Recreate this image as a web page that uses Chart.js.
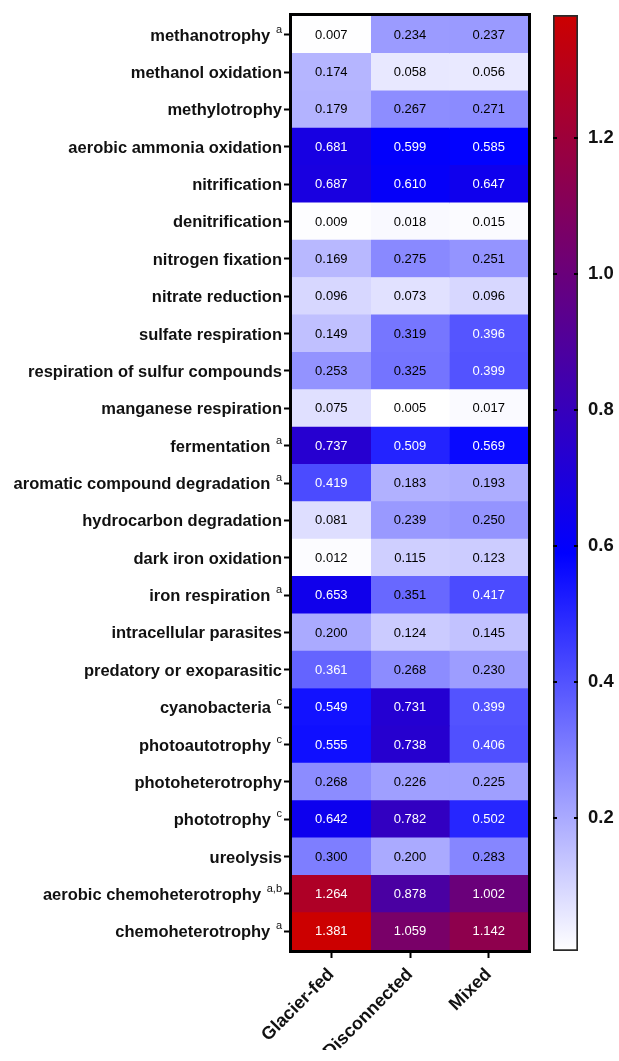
<!DOCTYPE html>
<html>
<head>
<meta charset="utf-8">
<title>Functional profiles</title>
<script src="https://cdn.jsdelivr.net/npm/chart.js@4/dist/chart.umd.min.js"></script>
<style>
  html, body { margin: 0; padding: 0; background: #ffffff; }
  #wrap { position: relative; width: 619px; height: 1061px; }
  #heat { position: absolute; left: 0; top: 0; }
  #scale { position: absolute; left: 540px; top: 0; }
</style>
</head>
<body>
<div id="wrap">
  <canvas id="heat" width="540" height="1061"></canvas>
  <canvas id="scale" width="79" height="1061"></canvas>
</div>
<script>
// Predicted functional groups (rows, top to bottom)
const functions = [
  'methanotrophy', 'methanol oxidation', 'methylotrophy', 'aerobic ammonia oxidation',
  'nitrification', 'denitrification', 'nitrogen fixation', 'nitrate reduction',
  'sulfate respiration', 'respiration of sulfur compounds', 'manganese respiration',
  'fermentation', 'aromatic compound degradation', 'hydrocarbon degradation',
  'dark iron oxidation', 'iron respiration', 'intracellular parasites',
  'predatory or exoparasitic', 'cyanobacteria', 'photoautotrophy', 'photoheterotrophy',
  'phototrophy', 'ureolysis', 'aerobic chemoheterotrophy', 'chemoheterotrophy'
];
// Significance letters shown as superscripts next to each function
const footnotes = [
  'a', '', '', '', '', '', '', '', '', '', '', 'a', 'a', '', '', 'a', '', '',
  'c', 'c', '', 'c', '', 'a,b', 'a'
];
// Lake types (columns)
const lakeTypes = ['Glacier-fed', 'Disconnected', 'Mixed'];

const glacierFed = [
  0.007, 0.174, 0.179, 0.681, 0.687, 0.009, 0.169, 0.096, 0.149, 0.253, 0.075, 0.737,
  0.419, 0.081, 0.012, 0.653, 0.200, 0.361, 0.549, 0.555, 0.268, 0.642, 0.300, 1.264, 1.381
];
const disconnected = [
  0.234, 0.058, 0.267, 0.599, 0.610, 0.018, 0.275, 0.073, 0.319, 0.325, 0.005, 0.509,
  0.183, 0.239, 0.115, 0.351, 0.124, 0.268, 0.731, 0.738, 0.226, 0.782, 0.200, 0.878, 1.059
];
const mixed = [
  0.237, 0.056, 0.271, 0.585, 0.647, 0.015, 0.251, 0.096, 0.396, 0.399, 0.017, 0.569,
  0.193, 0.250, 0.123, 0.417, 0.145, 0.230, 0.399, 0.406, 0.225, 0.502, 0.283, 1.002, 1.142
];
const columns = [glacierFed, disconnected, mixed];

// Colour bar tick values
const scaleTicks = [0.2, 0.4, 0.6, 0.8, 1.0, 1.2];

// Three-stop colour ramp: white -> blue -> red
const allValues = columns.flat();
const vMin = Math.min(...allValues);
const vMax = Math.max(...allValues);
const vMid = 0.59;
const LOW = [255, 255, 255], MID = [0, 0, 255], HIGH = [204, 0, 0];

function mix(a, b, t) {
  return a.map((c, i) => Math.round(c + (b[i] - c) * t));
}
function rampRGB(v) {
  if (v <= vMid) return mix(LOW, MID, Math.max(0, (v - vMin) / (vMid - vMin)));
  return mix(MID, HIGH, Math.min(1, (v - vMid) / (vMax - vMid)));
}
function rgbStr(c) { return 'rgb(' + c.join(',') + ')'; }
function textColorFor(v) {
  const c = rampRGB(v);
  const lum = 0.299 * c[0] + 0.587 * c[1] + 0.114 * c[2];
  return lum < 120 ? '#ffffff' : '#000000';
}

const FONT = "'Liberation Sans', Arial, Helvetica, sans-serif";

// Thick frame around the heat map plus row labels with superscripts and cell values
const heatDecor = {
  id: 'heatDecor',
  afterDatasetsDraw(chart) {
    const ctx = chart.ctx;
    // cell values
    ctx.save();
    ctx.font = '13px ' + FONT;
    ctx.textAlign = 'center';
    ctx.textBaseline = 'middle';
    columns.forEach((vals, d) => {
      chart.getDatasetMeta(d).data.forEach((bar, i) => {
        const p = bar.getCenterPoint();
        ctx.fillStyle = textColorFor(vals[i]);
        ctx.fillText(vals[i].toFixed(3), p.x, p.y + 0.5);
      });
    });
    ctx.restore();

    // frame
    const a = chart.chartArea;
    ctx.save();
    ctx.strokeStyle = '#000000';
    ctx.lineWidth = 3;
    ctx.strokeRect(a.left - 1.5, a.top - 1.5, a.right - a.left + 3, a.bottom - a.top + 3);
    ctx.restore();
  },
  afterDraw(chart) {
    const ctx = chart.ctx;
    const yScale = chart.scales.y;
    const rightEdge = yScale.right - 10;
    ctx.save();
    ctx.fillStyle = '#111111';
    functions.forEach((name, i) => {
      const y = yScale.getPixelForTick(i);
      let x = rightEdge;
      const note = footnotes[i];
      if (note) {
        ctx.font = '11px ' + FONT;
        ctx.textAlign = 'right';
        ctx.textBaseline = 'alphabetic';
        ctx.fillText(note, x, y - 2);
        x -= ctx.measureText(note).width;
        ctx.font = 'bold 16.5px ' + FONT;
        x -= ctx.measureText(' ').width + 1;
      }
      ctx.font = 'bold 16.5px ' + FONT;
      ctx.textAlign = 'right';
      ctx.textBaseline = 'alphabetic';
      ctx.fillText(name, x, y + 6);
    });
    ctx.restore();
  }
};

new Chart(document.getElementById('heat'), {
  type: 'bar',
  data: {
    labels: functions,
    datasets: columns.map((vals, c) => ({
      label: lakeTypes[c],
      data: vals.map(() => [c, c + 1]),
      backgroundColor: vals.map(v => rgbStr(rampRGB(v))),
      borderWidth: 0,
      barPercentage: 1,
      categoryPercentage: 1,
      grouped: false
    }))
  },
  options: {
    indexAxis: 'y',
    responsive: false,
    devicePixelRatio: 1,
    animation: false,
    layout: { padding: { left: 282, top: 16, right: 12, bottom: 11 } },
    plugins: { legend: { display: false }, tooltip: { enabled: false } },
    scales: {
      y: {
        type: 'category',
        ticks: { display: false },
        grid: { offset: false, drawOnChartArea: false, drawTicks: true, tickLength: 8, tickWidth: 2, tickColor: '#000000' },
        border: { display: false },
        afterFit(scale) { scale.width = 10; }
      },
      x: {
        type: 'linear',
        min: 0,
        max: lakeTypes.length,
        afterBuildTicks(scale) { scale.ticks = lakeTypes.map((_, i) => ({ value: i + 0.5 })); },
        ticks: {
          autoSkip: false,
          minRotation: 45,
          maxRotation: 45,
          padding: 6,
          color: '#111111',
          font: { family: FONT, size: 18, weight: 'bold' },
          callback(value) { return lakeTypes[Math.floor(value)]; }
        },
        grid: { drawOnChartArea: false, drawTicks: true, tickLength: 8, tickWidth: 2, tickColor: '#000000' },
        border: { display: false },
        afterFit(scale) { scale.height = 100; }
      }
    }
  },
  plugins: [heatDecor]
});

// Colour bar
new Chart(document.getElementById('scale'), {
  type: 'bar',
  data: {
    labels: ['range'],
    datasets: [{
      data: [[vMin, vMax]],
      backgroundColor(context) {
        const chart = context.chart;
        if (!chart.chartArea) return null;
        const y = chart.scales.y;
        const g = chart.ctx.createLinearGradient(0, y.getPixelForValue(vMin), 0, y.getPixelForValue(vMax));
        g.addColorStop(0, rgbStr(LOW));
        g.addColorStop((vMid - vMin) / (vMax - vMin), rgbStr(MID));
        g.addColorStop(1, rgbStr(HIGH));
        return g;
      },
      borderColor: '#2a2a2a',
      borderWidth: 2,
      borderSkipped: false,
      barPercentage: 1,
      categoryPercentage: 1
    }]
  },
  options: {
    responsive: false,
    devicePixelRatio: 1,
    animation: false,
    layout: { padding: { left: 13, top: 15, right: 5, bottom: 110 } },
    plugins: { legend: { display: false }, tooltip: { enabled: false } },
    scales: {
      x: { display: false },
      y: {
        position: 'right',
        min: vMin,
        max: vMax,
        afterBuildTicks(scale) { scale.ticks = scaleTicks.map(v => ({ value: v })); },
        afterFit(scale) {
          scale.width = 36;
          scale.paddingTop = 0;
          scale.paddingBottom = 0;
        },
        ticks: {
          padding: 10,
          color: '#111111',
          font: { family: FONT, size: 18.5, weight: 'bold' },
          callback(value) { return value.toFixed(1); }
        },
        grid: { z: 1, drawTicks: false, color: '#000000', lineWidth: 2 },
        border: { display: false, dash: [4, 17] }
      }
    }
  }
});
</script>
</body>
</html>
